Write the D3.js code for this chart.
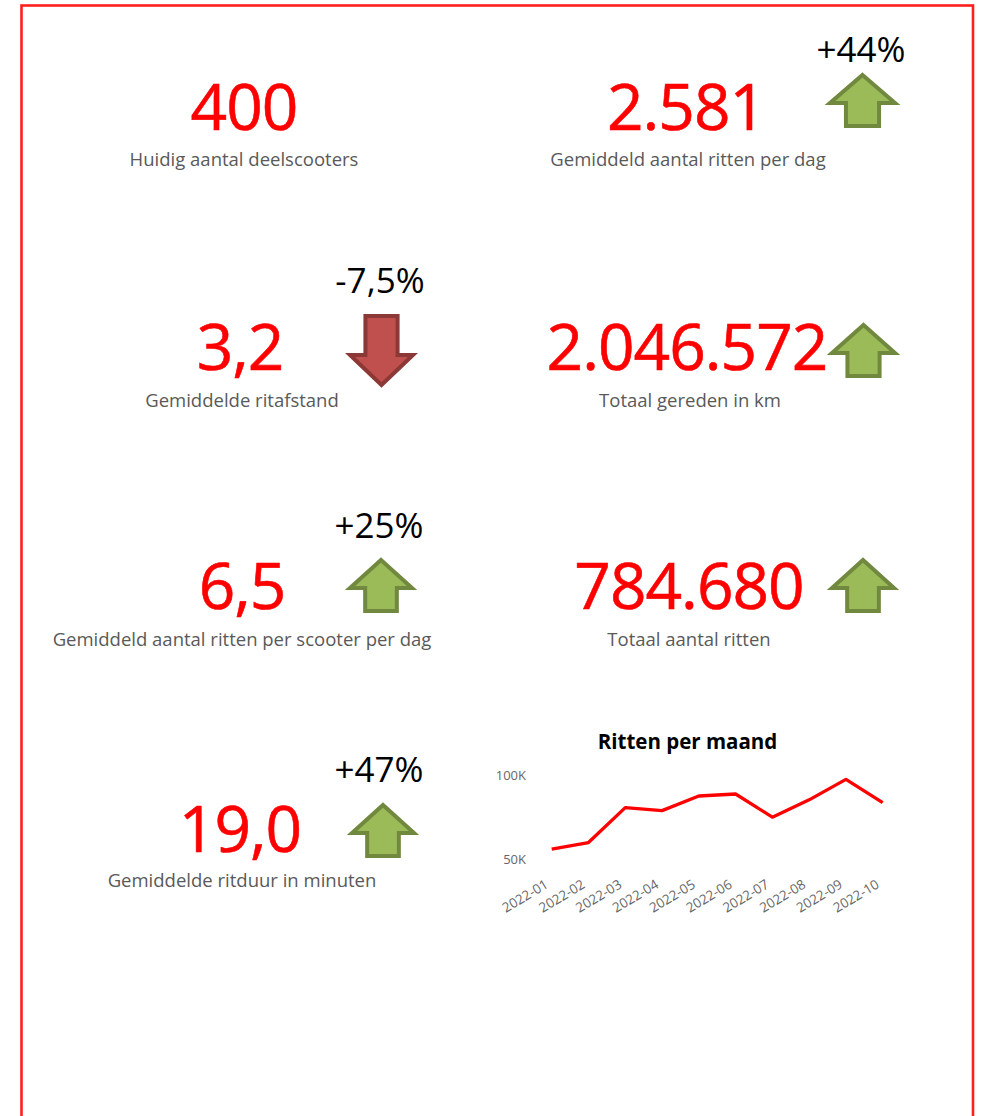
<!DOCTYPE html>
<html>
<head>
<meta charset="utf-8">
<script src="https://cdn.jsdelivr.net/npm/d3@7"></script>
<style>
html,body{margin:0;padding:0;background:#fff;}
svg{display:block;}
</style>
</head>
<body>
<svg id="c" width="986" height="1116"></svg>
<script>
// ---- data ----
const kpiValues = ["400", "2.581", "3,2", "2.046.572", "6,5", "784.680", "19,0"];
const kpiLabels = [
  "Huidig aantal deelscooters",
  "Gemiddeld aantal ritten per dag",
  "Gemiddelde ritafstand",
  "Totaal gereden in km",
  "Gemiddeld aantal ritten per scooter per dag",
  "Totaal aantal ritten",
  "Gemiddelde ritduur in minuten"
];
const kpiChanges = [null, "+44%", "-7,5%", null, "+25%", null, "+47%"];
const kpiTrend = [null, "up", "down", "up", "up", "up", "up"];

const months = ["2022-01","2022-02","2022-03","2022-04","2022-05","2022-06","2022-07","2022-08","2022-09","2022-10"];
const rides = [55900, 59800, 80600, 78800, 87500, 88700, 74900, 85200, 97400, 83600];
const yTicks = [50000, 100000];
const chartTitle = "Ritten per maand";

// ---- layout (positions only) ----
const layout = [
  {cx:244, by:130, lx:244, ly:166},
  {cx:686, by:130, lx:688, ly:166, px:861, py:62,  ax:828, ay:73,  aw:69, ah:55, hh:30},
  {cx:240, by:370, lx:242, ly:407, px:380, py:293, ax:348, ay:314, aw:67, ah:73, hh:32},
  {cx:687, by:370, lx:690, ly:407, ax:830, ay:323, aw:67, ah:55, hh:30},
  {cx:242, by:609, lx:242, ly:646, px:379, py:538, ax:348, ay:558, aw:66, ah:55, hh:30},
  {cx:689, by:609, lx:689, ly:646, ax:830, ay:558, aw:66, ah:55, hh:30},
  {cx:240, by:852, lx:242, ly:887, px:379, py:782, ax:350, ay:803, aw:66, ah:55, hh:30}
];

const svg = d3.select("#c");
const FONT = "'Open Sans', 'Noto Sans', sans-serif";

// border
svg.append("rect")
  .attr("x", 21.5).attr("y", 5.5).attr("width", 951.5).attr("height", 1200)
  .attr("fill", "none").attr("stroke", "#ff1f1f").attr("stroke-width", 2.6);

function arrowPath(x, y, w, h, hh, dir) {
  const s = 4 / 2; // inset for stroke
  const sw = w * 0.48;
  const cx = x + w / 2;
  const p = d3.path();
  if (dir === "up") {
    const x0 = x + s, x1 = x + w - s, yt = y + s, yb = y + h - s, yh = y + hh;
    p.moveTo(cx, yt);
    p.lineTo(x1, yh);
    p.lineTo(cx + sw / 2, yh);
    p.lineTo(cx + sw / 2, yb);
    p.lineTo(cx - sw / 2, yb);
    p.lineTo(cx - sw / 2, yh);
    p.lineTo(x0, yh);
    p.closePath();
  } else {
    const x0 = x + s, x1 = x + w - s, yt = y + s, yb = y + h - s, yh = y + h - hh;
    p.moveTo(cx - sw / 2, yt);
    p.lineTo(cx + sw / 2, yt);
    p.lineTo(cx + sw / 2, yh);
    p.lineTo(x1, yh);
    p.lineTo(cx, yb);
    p.lineTo(x0, yh);
    p.lineTo(cx - sw / 2, yh);
    p.closePath();
  }
  return p.toString();
}

const g = svg.append("g");
kpiValues.forEach((v, i) => {
  const L = layout[i];
  g.append("text")
    .attr("x", L.cx).attr("y", L.by)
    .attr("text-anchor", "middle")
    .attr("font-family", FONT)
    .attr("font-size", 64)
    .attr("letter-spacing", -1)
    .attr("fill", "#ff0000")
    .attr("stroke", "#ff0000")
    .attr("stroke-width", 0.6)
    .text(v);
  g.append("text")
    .attr("x", L.lx).attr("y", L.ly)
    .attr("text-anchor", "middle")
    .attr("font-family", FONT)
    .attr("font-size", 18.5)
    .attr("fill", "#595959")
    .text(kpiLabels[i]);
  if (kpiChanges[i]) {
    g.append("text")
      .attr("x", L.px).attr("y", L.py)
      .attr("text-anchor", "middle")
      .attr("font-family", FONT)
      .attr("font-size", 35)
      .attr("fill", "#000")
      .text(kpiChanges[i]);
  }
  if (kpiTrend[i]) {
    const up = kpiTrend[i] === "up";
    g.append("path")
      .attr("d", arrowPath(L.ax, L.ay, L.aw, L.ah, L.hh, kpiTrend[i]))
      .attr("fill", up ? "#9bbb59" : "#c0504d")
      .attr("stroke", up ? "#71893f" : "#8c3836")
      .attr("stroke-width", 4)
      .attr("stroke-linejoin", "miter");
  }
});

// ---- line chart ----
const x = d3.scalePoint().domain(months).range([551.7, 882.7]);
const y = d3.scaleLinear().domain([50000, 100000]).range([859, 775]);

const chart = svg.append("g");
chart.append("text")
  .attr("x", 687.5).attr("y", 749)
  .attr("text-anchor", "middle")
  .attr("font-family", FONT)
  .attr("font-weight", "bold")
  .attr("font-size", 20.5)
  .attr("fill", "#000")
  .text(chartTitle);

const yAxis = chart.append("g")
  .attr("transform", "translate(526,0)")
  .call(d3.axisLeft(y).tickValues(yTicks).tickSize(0).tickPadding(0)
    .tickFormat(d => d3.format("d")(d / 1000) + "K"));
yAxis.select(".domain").remove();
yAxis.selectAll("text")
  .attr("font-family", FONT).attr("font-size", 13).attr("fill", "#666");

const xAxis = chart.append("g")
  .attr("transform", "translate(0,872)")
  .call(d3.axisBottom(x).tickSize(0).tickPadding(0));
xAxis.select(".domain").remove();
xAxis.selectAll("text")
  .attr("font-family", FONT).attr("font-size", 13.5).attr("fill", "#666")
  .attr("text-anchor", "end")
  .attr("dy", "0")
  .attr("transform", "translate(-3,15) rotate(-31)");

chart.append("path")
  .datum(rides)
  .attr("fill", "none")
  .attr("stroke", "#ff0000")
  .attr("stroke-width", 3.3)
  .attr("stroke-linejoin", "round")
  .attr("d", d3.line().x((d, i) => x(months[i])).y(d => y(d)));
</script>
</body>
</html>
